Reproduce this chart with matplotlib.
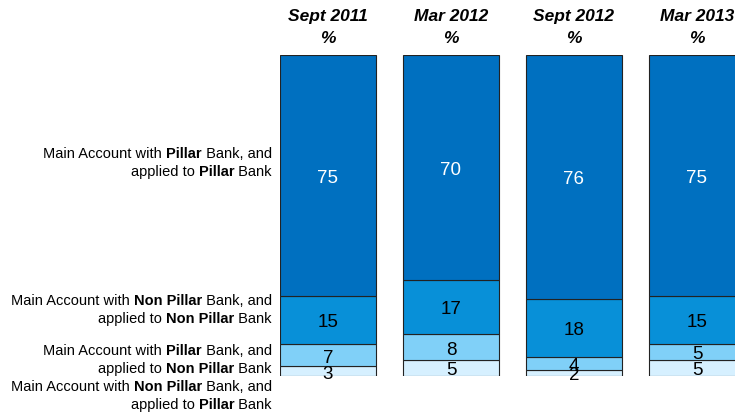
import numpy as np
import matplotlib.pyplot as plt

plt.rcParams['font.family'] = ['Liberation Sans', 'DejaVu Sans']

# data (percent, bottom to top)
periods = ['Sept 2011', 'Mar 2012', 'Sept 2012', 'Mar 2013']
non_pillar_to_pillar = [3, 5, 2, 5]
pillar_to_non_pillar = [7, 8, 4, 5]
non_pillar_to_non_pillar = [15, 17, 18, 15]
pillar_to_pillar = [75, 70, 76, 75]

series = [non_pillar_to_pillar, pillar_to_non_pillar,
          non_pillar_to_non_pillar, pillar_to_pillar]
colors = ['#d6f0ff', '#80d0f8', '#0890d8', '#0070c0']
text_colors = ['black', 'black', 'black', 'white']

# row labels as lines of (text, bold) pieces
row_labels = [
    [[('Main Account with ', 0), ('Pillar', 1), (' Bank, and', 0)],
     [('applied to ', 0), ('Pillar', 1), (' Bank', 0)]],
    [[('Main Account with ', 0), ('Non Pillar', 1), (' Bank, and', 0)],
     [('applied to ', 0), ('Non Pillar', 1), (' Bank', 0)]],
    [[('Main Account with ', 0), ('Pillar', 1), (' Bank, and', 0)],
     [('applied to ', 0), ('Non Pillar', 1), (' Bank', 0)]],
    [[('Main Account with ', 0), ('Non Pillar', 1), (' Bank, and', 0)],
     [('applied to ', 0), ('Pillar', 1), (' Bank', 0)]],
]
label_y_px = [163, 310, 360, 396]

W, H = 735, 414
fig = plt.figure(figsize=(W / 100, H / 100), dpi=100)
ax = fig.add_axes([280 / W, 1 - 377 / H, (W - 280) / W, 321 / H])

x = np.arange(len(periods))
width = 96 / 123
bottom = np.zeros(len(periods))
for vals, c, tc in zip(series, colors, text_colors):
    vals = np.array(vals)
    ax.bar(x, vals, width, bottom=bottom, color=c, edgecolor='#222222', linewidth=0.8)
    for xi, b, v in zip(x, bottom, vals):
        ax.text(xi, b + v / 2, str(v), ha='center', va='center_baseline',
                fontsize=13.5, color=tc)
    bottom += vals

ax.set_xlim(-0.39, -0.39 + (W - 280) / 123)
ax.set_ylim(0, 100)
ax.axis('off')

for xi, p in zip(x, periods):
    ax.text(xi, 112.3, p, ha='center', va='center', fontsize=12.5,
            fontweight='bold', fontstyle='italic', clip_on=False)
    ax.text(xi, 105.6, '%', ha='center', va='center', fontsize=12.5,
            fontweight='bold', fontstyle='italic', clip_on=False)

# mixed bold/regular labels, right aligned at x=272px
renderer = fig.canvas.get_renderer()
fs = 10.5


def advance(s, bold):
    w = 'bold' if bold else 'normal'
    t1 = fig.text(0, 0, '|' + s + '|', fontsize=fs, fontweight=w)
    t2 = fig.text(0, 0, '||', fontsize=fs, fontweight=w)
    a = t1.get_window_extent(renderer).width - t2.get_window_extent(renderer).width
    t1.remove()
    t2.remove()
    return a


for lines, ypx in zip(row_labels, label_y_px):
    for i, line in enumerate(lines):
        ly = ypx + (i - 0.5) * 18
        widths = [advance(s, b) for s, b in line]
        xpos = 272 - sum(widths)
        for (s, b), w in zip(line, widths):
            fig.text(xpos / W, 1 - ly / H, s, ha='left', va='center', fontsize=fs,
                     fontweight='bold' if b else 'normal')
            xpos += w

fig.savefig('out.png', dpi=100)
